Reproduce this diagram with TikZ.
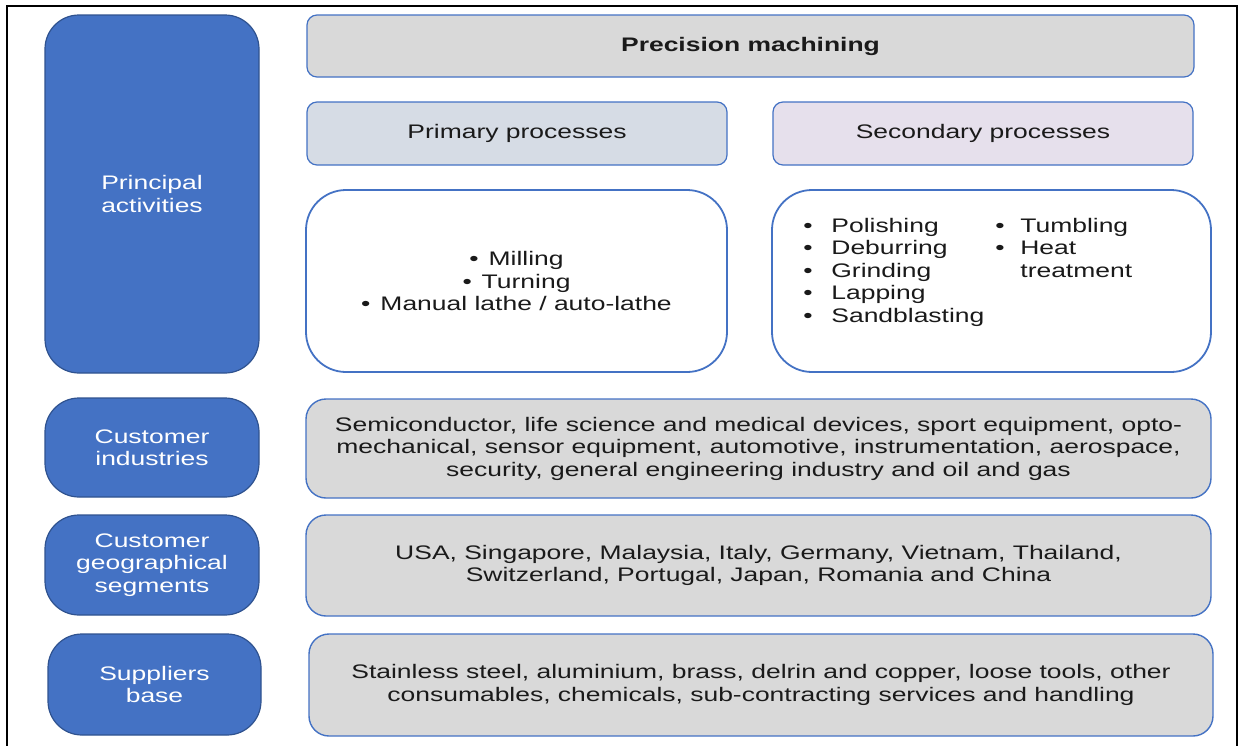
\documentclass[tikz,border=0pt]{standalone}
\usepackage{fontspec}
\setmainfont[FakeStretch=1.35]{Liberation Sans}
\usepackage{array}
\usepackage{tikz}
\usetikzlibrary{positioning}
\definecolor{segblue}{HTML}{4472C4}
\definecolor{segedge}{HTML}{2F528F}
\definecolor{panelgrey}{HTML}{D9D9D9}
\definecolor{primfill}{HTML}{D6DCE5}
\definecolor{secfill}{HTML}{E6E0EC}
\definecolor{inktext}{HTML}{1A1A1A}
\newcommand{\bul}{\textbullet\hspace{5pt}}
\tikzset{
  base/.style={font=\fontsize{9.8}{11.25}\selectfont, align=center, inner sep=2pt, text=inktext},
  seg/.style={base, rectangle, rounded corners=17pt, draw=segedge, fill=segblue, line width=0.6pt, text=white, minimum width=107pt},
  panel/.style={base, rectangle, rounded corners=10pt, draw=segblue, fill=panelgrey, line width=0.7pt, minimum width=452.5pt},
  head/.style={base, rectangle, rounded corners=5pt, draw=segblue, line width=0.6pt, minimum width=210pt, minimum height=31.5pt},
  listbox/.style={base, rectangle, rounded corners=20pt, draw=segblue, fill=white, line width=0.9pt, minimum height=91pt},
  frame/.style={line width=1.3pt, draw=black},
}
\begin{document}
\begin{tikzpicture}[x=0.5pt,y=-0.5pt]
  \useasboundingbox (0,0) rectangle (1243,745);
  \draw[frame] (7,760) -- (7,6) -- (1237,6) -- (1237,760);
  % left column
  \node[seg,minimum height=179pt] (act) at (152,194) {Principal\\activities};
  \node[seg,minimum height=49.5pt] (ind) at (152,447.5) {Customer\\industries};
  \node[seg,minimum height=50pt] (geo) at (152,565) {Customer\\geographical\\segments};
  \node[seg,minimum height=50.5pt,minimum width=106.5pt] (sup) at (154.5,684.5) {Suppliers\\base};
  % process panels
  \node[head,fill=panelgrey,minimum width=443.5pt,minimum height=31pt] (prec) at (750.5,46) {\textbf{Precision machining}};
  \node[head,fill=primfill] (prim) at (517,133.5) {Primary processes};
  \node[head,fill=secfill] (sec) at (983,133.5) {Secondary processes};
  \node[listbox,minimum width=210.5pt] (primlist) at (516.5,281) {\bul Milling\\\bul Turning\\\bul Manual lathe / auto-lathe};
  \node[listbox,minimum width=219.5pt] (seclist) at (991.5,281) {};
  \node[base,anchor=north west,inner sep=0pt] (secitems) at (803,216) {%
    \begin{tabular}{@{}p{14pt}@{}p{82pt}@{}p{12.5pt}@{}l@{}}
      \textbullet & Polishing & \textbullet & Tumbling\\
      \textbullet & Deburring & \textbullet & Heat\\
      \textbullet & Grinding & & treatment\\
      \textbullet & Lapping & & \\
      \textbullet & Sandblasting & & \\
    \end{tabular}};
  % customer and supplier panels
  \node[panel,minimum height=49.5pt] (indtxt) at (758.5,448.5) {Semiconductor, life science and medical devices, sport equipment, opto-\\mechanical, sensor equipment, automotive, instrumentation, aerospace,\\security, general engineering industry and oil and gas};
  \node[panel,minimum height=50.5pt] (geotxt) at (758.5,565.5) {USA, Singapore, Malaysia, Italy, Germany, Vietnam, Thailand,\\Switzerland, Portugal, Japan, Romania and China};
  \node[panel,minimum height=51pt,minimum width=452pt] (suptxt) at (761,685) {Stainless steel, aluminium, brass, delrin and copper, loose tools, other\\consumables, chemicals, sub-contracting services and handling};
\end{tikzpicture}
\end{document}
